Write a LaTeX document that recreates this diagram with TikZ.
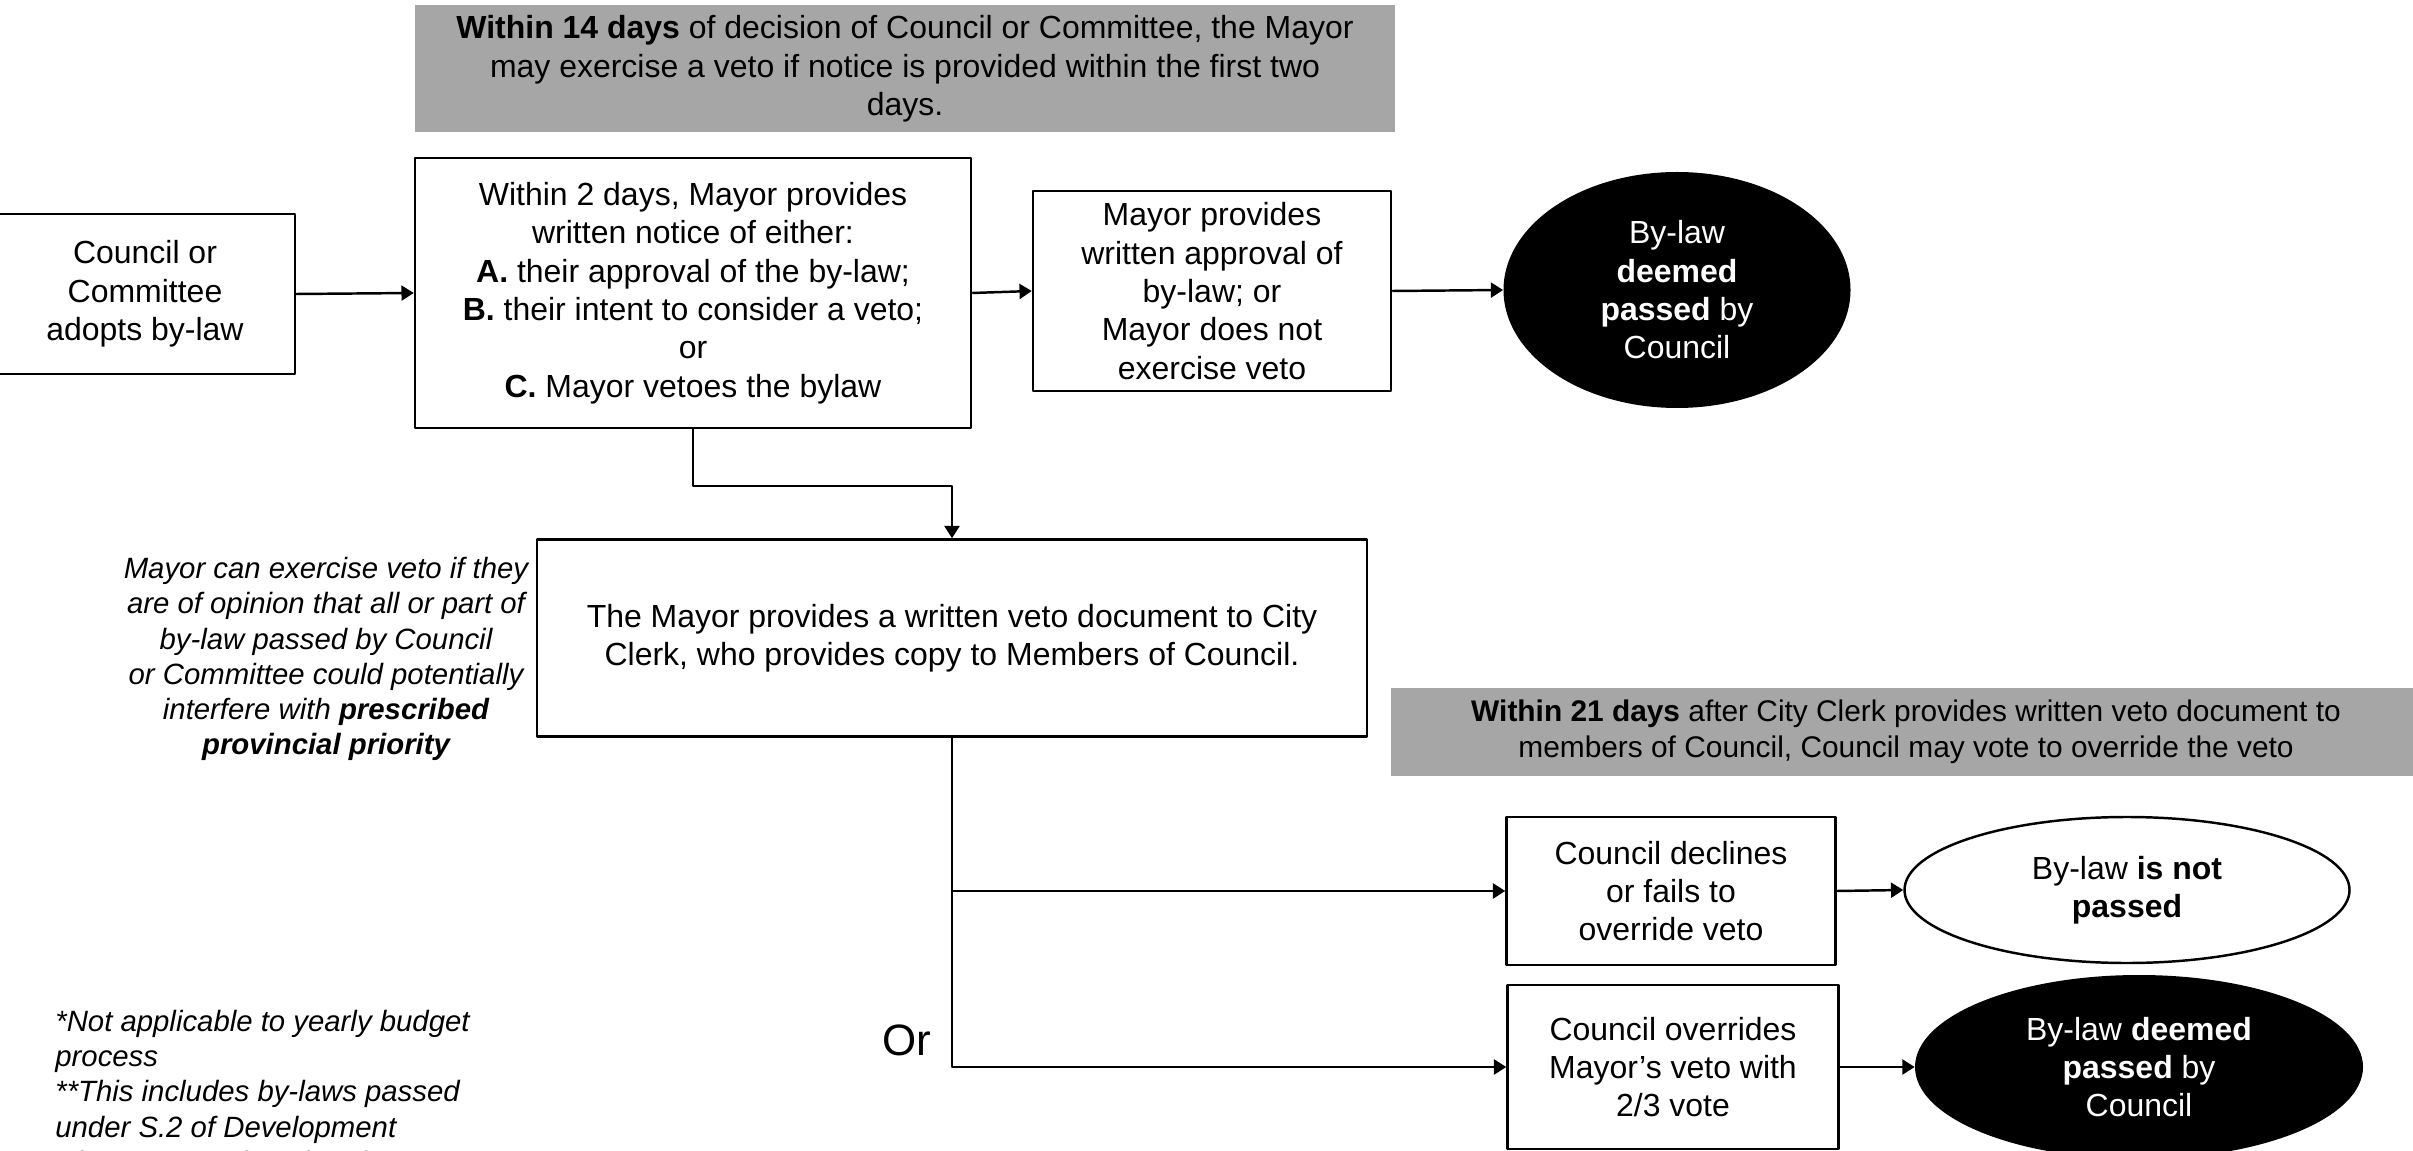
\documentclass[tikz,border=0pt]{standalone}
\usepackage{fontspec}
\setmainfont{Liberation Sans}
\usetikzlibrary{arrows.meta,shapes.geometric}
\definecolor{bannergray}{RGB}{166,166,166}
\tikzset{
 stepbox/.style={draw,line width=1.4pt,align=center,inner sep=0pt,fill=white},
 banner/.style={fill=bannergray,align=center,inner sep=0pt},
 endblack/.style={ellipse,fill=black,text=white,align=center,inner sep=0pt},
 endwhite/.style={ellipse,draw,line width=1.4pt,align=center,inner sep=0pt},
 note/.style={align=center,font=\fontsize{16.7}{20}\selectfont\itshape},
 flow/.style={line width=1.4pt,-{Triangle[length=7pt,width=8.5pt]}}
}
\begin{document}
\begin{tikzpicture}[x=0.02cm,y=-0.02cm,font=\fontsize{18.2}{21.8}\selectfont,line join=round]
 \def\pxu{0.02cm}
 \useasboundingbox (0,0) rectangle (2413,1151);
 % time limits
 \node[banner,minimum width=980*\pxu,minimum height=127*\pxu] (limitA) at (905,69)
  {\textbf{Within 14 days} of decision of Council or Committee, the Mayor\\ may exercise a veto if notice is provided within the first two\\ days.};
 \node[banner,minimum width=1030*\pxu,minimum height=88*\pxu,font=\fontsize{17}{20.2}\selectfont] (limitB) at (1906,732)
  {\textbf{Within 21 days} after City Clerk provides written veto document to\\ members of Council, Council may vote to override the veto};
 % steps
 \node[stepbox,minimum width=300*\pxu,minimum height=160*\pxu] (adopt) at (145,294)
  {Council or\\ Committee\\ adopts by-law};
 \node[stepbox,minimum width=556*\pxu,minimum height=270*\pxu] (notice) at (693,293)
  {Within 2 days, Mayor provides\\ written notice of either:\\ \textbf{A.} their approval of the by-law;\\ \textbf{B.} their intent to consider a veto;\\ or\\ \textbf{C.} Mayor vetoes the bylaw};
 \node[stepbox,minimum width=358*\pxu,minimum height=200*\pxu] (approve) at (1212,291)
  {Mayor provides\\ written approval of\\ by-law; or\\ Mayor does not\\ exercise veto};
 \node[endblack,minimum width=347*\pxu,minimum height=236*\pxu] (passA) at (1677,290)
  {By-law\\ \textbf{deemed}\\ \textbf{passed} by\\ Council};
 \node[stepbox,minimum width=830*\pxu,minimum height=197*\pxu] (vetodoc) at (952,638)
  {The Mayor provides a written veto document to City\\ Clerk, who provides copy to Members of Council.};
 \node[note] (why) at (326,659)
  {Mayor can exercise veto if they\\ are of opinion that all or part of\\ by-law passed by Council\\ or Committee could potentially\\ interfere with \textbf{prescribed}\\ \textbf{provincial priority}};
 \node[stepbox,minimum width=329*\pxu,minimum height=148*\pxu] (decline) at (1671,891)
  {Council declines\\ or fails to\\ override veto};
 \node[endwhite,minimum width=445*\pxu,minimum height=146*\pxu] (notpassed) at (2127,890)
  {By-law \textbf{is not}\\ \textbf{passed}};
 \node[stepbox,minimum width=331*\pxu,minimum height=164*\pxu] (overrides) at (1673,1067)
  {Council overrides\\ Mayor’s veto with\\ 2/3 vote};
 \node[endblack,minimum width=448*\pxu,minimum height=184*\pxu] (passB) at (2139,1067)
  {By-law \textbf{deemed}\\ \textbf{passed} by\\ Council};
 \node[font=\fontsize{25}{30}\selectfont] (or) at (907,1040) {Or};
 \node[note,align=left,anchor=north west,inner sep=0pt] (notes) at (55,1010)
  {*Not applicable to yearly budget\\ process\\ **This includes by-laws passed\\ under S.2 of Development\\ Charges Act, the City of Toronto};
 % connectors
 \draw[flow] (adopt.east) -- (notice.west);
 \draw[flow] (notice.east) -- (approve.west);
 \draw[flow] (approve.east) -- (passA.west);
 \draw[flow] (notice.south) -- ++(0,57) -| (vetodoc.north);
 \draw[flow] (vetodoc.south) |- (overrides.west);
 \draw[flow] (vetodoc.south |- decline.west) -- (decline.west);
 \draw[flow] (decline.east) -- (notpassed.west);
 \draw[flow] (overrides.east) -- (passB.west);
\end{tikzpicture}
\end{document}
